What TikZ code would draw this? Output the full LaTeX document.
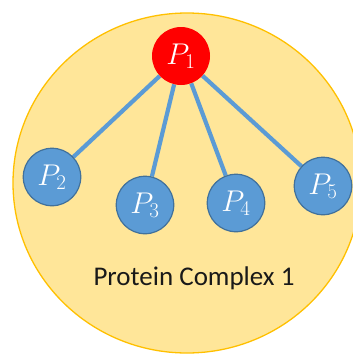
\RequirePackage{fix-cm}
\documentclass[tikz,border=0pt]{standalone}
\usepackage{fontspec}
\setmainfont{Carlito}
\usetikzlibrary{shapes.geometric}
\definecolor{cplxfill}{HTML}{FFE699}
\definecolor{cplxline}{HTML}{FFC000}
\definecolor{protfill}{HTML}{5B9BD5}
\definecolor{protline}{HTML}{41719C}
\definecolor{hubfill}{HTML}{FF0000}
\pgfdeclarelayer{bglayer}
\pgfdeclarelayer{linklayer}
\pgfsetlayers{bglayer,linklayer,main}
\begin{document}
\begin{tikzpicture}[x=1pt,y=-1pt,
  prot/.style={circle,minimum size=57.5pt,inner sep=0pt,fill=protfill,draw=protline,line width=1.2pt,text=white,font=\fontsize{30}{30}\selectfont},
  hub/.style={circle,minimum size=58pt,inner sep=0pt,fill=hubfill,text=white,font=\fontsize{30}{30}\selectfont},
  link/.style={draw=protfill,line width=4.2pt}]
\useasboundingbox (0,0) rectangle (353,354);
\node[hub] (p1) at (181,56) {$P_1$};
\node[prot] (p2) at (52,177) {$P_2$};
\node[prot] (p3) at (145,205) {$P_3$};
\node[prot] (p4) at (236,203) {$P_4$};
\node[prot] (p5) at (323,186) {$P_5$};
\node[font=\fontsize{27}{27}\selectfont,text=black!90] (lbl) at (194,278) {Protein Complex 1};
\begin{pgfonlayer}{bglayer}
\clip (0,0) rectangle (353,354);
\node[ellipse,draw=cplxline,fill=cplxfill,line width=1.3pt,minimum width=348pt,minimum height=340pt,inner sep=0pt] (cplx) at (187,183) {};
\end{pgfonlayer}
\begin{pgfonlayer}{linklayer}
\path[link] (p1) -- (p2);
\path[link] (p1) -- (p3);
\path[link] (p1) -- (p4);
\path[link] (p1) -- (p5);
\end{pgfonlayer}
\end{tikzpicture}
\end{document}
